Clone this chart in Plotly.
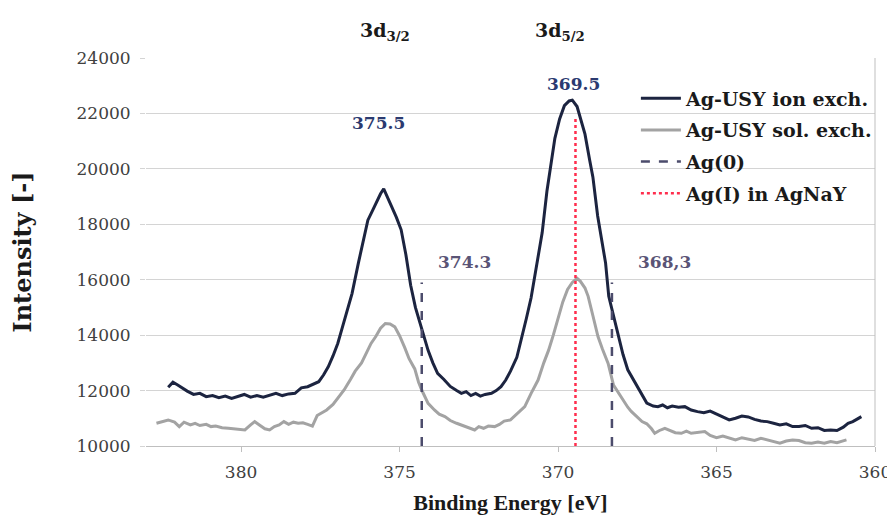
import plotly.graph_objects as go

# ---------------- data ----------------
be_ion = [382.3, 382.15, 382.0, 381.85, 381.7, 381.5, 381.3, 381.1, 380.9, 380.7, 380.5, 380.3, 380.1,
          379.9, 379.7, 379.5, 379.3, 379.1, 378.9, 378.7, 378.5, 378.3, 378.1, 377.9, 377.7, 377.55,
          377.4, 377.25, 377.1, 376.95, 376.8, 376.65, 376.5, 376.3, 376.15, 376.0, 375.85, 375.7, 375.6,
          375.5, 375.4, 375.25, 375.1, 374.95, 374.8, 374.65, 374.5, 374.3, 374.1, 373.95, 373.8, 373.6,
          373.4, 373.2, 373.05, 372.9, 372.75, 372.6, 372.45, 372.3, 372.1, 371.95, 371.8, 371.65, 371.5,
          371.3, 371.15, 371.0, 370.85, 370.7, 370.5, 370.35, 370.25, 370.1, 369.95, 369.8, 369.65, 369.55,
          369.4, 369.25, 369.15, 369.0, 368.9, 368.75, 368.6, 368.5, 368.4, 368.25, 368.1, 367.95, 367.8,
          367.65, 367.5, 367.35, 367.2, 367.0, 366.85, 366.7, 366.55, 366.4, 366.2, 366.0, 365.8, 365.6,
          365.4, 365.2, 365.0, 364.8, 364.6, 364.4, 364.2, 364.0, 363.8, 363.6, 363.4, 363.2, 363.0, 362.8,
          362.6, 362.4, 362.2, 362.0, 361.8, 361.6, 361.4, 361.2, 361.0, 360.85, 360.7, 360.55, 360.43]
int_ion = [12120, 12300, 12200, 12080, 11980, 11860, 11900, 11780, 11820, 11740, 11800, 11720, 11780,
           11860, 11760, 11820, 11760, 11840, 11900, 11820, 11880, 11900, 12100, 12140, 12260, 12320,
           12560, 12860, 13250, 13700, 14300, 14900, 15500, 16600, 17400, 18150, 18500, 18900, 19100,
           19280, 19000, 18640, 18250, 17800, 16900, 15800, 15000, 14250, 13450, 13000, 12620, 12400,
           12150, 12000, 11900, 11960, 11820, 11900, 11800, 11860, 11900, 12000, 12140, 12380, 12700,
           13200, 13850, 14600, 15350, 16300, 17700, 19200, 20000, 21100, 21800, 22280, 22450, 22480,
           22250, 21700, 21250, 20300, 19700, 18300, 17300, 16600, 15400, 14700, 13950, 13300, 12750,
           12450, 12150, 11800, 11550, 11440, 11420, 11480, 11380, 11440, 11400, 11420, 11300, 11240,
           11200, 11260, 11160, 11060, 10940, 11000, 11080, 11050, 10960, 10900, 10880, 10820, 10760, 10800,
           10700, 10700, 10740, 10640, 10660, 10560, 10580, 10560, 10680, 10820, 10880, 10980, 11060]

be_sol = [382.67, 382.5, 382.3, 382.1, 381.95, 381.8, 381.6, 381.45, 381.3, 381.1, 380.95, 380.8, 380.6,
          380.4, 380.2, 380.0, 379.88, 379.7, 379.57, 379.4, 379.25, 379.1, 378.95, 378.8, 378.65, 378.5,
          378.35, 378.2, 378.05, 377.9, 377.75, 377.6, 377.45, 377.3, 377.1, 376.95, 376.75, 376.55, 376.4,
          376.2, 376.05, 375.9, 375.75, 375.6, 375.45, 375.3, 375.15, 375.0, 374.84, 374.7, 374.52, 374.4,
          374.3, 374.2, 374.1, 373.9, 373.75, 373.57, 373.4, 373.2, 373.05, 372.9, 372.75, 372.63, 372.5,
          372.35, 372.2, 372.0, 371.85, 371.7, 371.5, 371.3, 371.05, 370.85, 370.63, 370.45, 370.3, 370.15,
          370.0, 369.85, 369.7, 369.55, 369.4, 369.3, 369.15, 369.05, 368.9, 368.74, 368.6, 368.42, 368.25,
          368.11, 367.95, 367.8, 367.69, 367.5, 367.35, 367.2, 367.05, 366.95, 366.8, 366.63, 366.45, 366.3,
          366.11, 365.95, 365.8, 365.6, 365.37, 365.2, 365.0, 364.8, 364.6, 364.4, 364.2, 364.0, 363.8,
          363.6, 363.4, 363.2, 363.0, 362.8, 362.6, 362.4, 362.2, 362.0, 361.8, 361.6, 361.4, 361.2,
          361.05, 360.9]
int_sol = [10819, 10880, 10940, 10860, 10700, 10860, 10760, 10820, 10740, 10780, 10700, 10720, 10660,
           10640, 10620, 10580, 10580, 10760, 10880, 10740, 10620, 10580, 10700, 10760, 10880, 10780,
           10860, 10820, 10840, 10780, 10720, 11100, 11200, 11300, 11500, 11720, 12020, 12400, 12700,
           13000, 13350, 13700, 13950, 14250, 14420, 14400, 14300, 13980, 13560, 13150, 12780, 12300,
           12020, 11780, 11540, 11300, 11150, 11060, 10920, 10820, 10760, 10700, 10620, 10580, 10700,
           10640, 10720, 10700, 10780, 10900, 10940, 11150, 11420, 11900, 12380, 13000, 13450, 14000,
           14650, 15200, 15650, 15900, 16050, 15950, 15700, 15400, 14700, 13950, 13500, 12980, 12200,
           11950, 11650, 11400, 11250, 11060, 10880, 10800, 10620, 10460, 10560, 10640, 10560, 10480,
           10460, 10540, 10460, 10500, 10520, 10380, 10300, 10360, 10280, 10220, 10300, 10240, 10200,
           10280, 10220, 10160, 10100, 10180, 10220, 10200, 10120, 10100, 10140, 10100, 10160, 10120,
           10180, 10220]

ag0_energies = [374.3, 368.3]
ag0_top = 15900
agI_energy = 369.45
agI_top = 21900
y_base = 10000

x_ticks = [380, 375, 370, 365, 360]
y_ticks = [10000, 12000, 14000, 16000, 18000, 20000, 22000, 24000]

series_names = ["Ag-USY ion exch.", "Ag-USY sol. exch.", "Ag(0)", "Ag(I) in AgNaY"]

peak_labels = ["375.5", "369.5"]
peak_label_pos = [(375.68, 21650), (369.5, 23080)]
ag0_labels = ["374.3", "368,3"]
ag0_label_pos = [(372.95, 16640), (366.65, 16640)]
orbital_labels = ["<b>3d<sub>3/2</sub></b>", "<b>3d<sub>5/2</sub></b>"]
orbital_label_x = [375.45, 369.95]

# ---------------- figure ----------------
SERIF = "DejaVu Serif"
TIMES = "Liberation Serif"

fig = go.Figure()
fig.add_trace(go.Scatter(x=be_ion, y=int_ion, mode="lines", name=series_names[0],
                         legendgroup="g1", line=dict(color="#1c2440", width=3)))
fig.add_trace(go.Scatter(x=be_sol, y=int_sol, mode="lines", name=series_names[1],
                         legendgroup="g2", line=dict(color="#a3a3a3", width=3)))

ag0_x, ag0_y = [], []
for e in ag0_energies:
    ag0_x += [e, e, None]
    ag0_y += [y_base, ag0_top, None]
fig.add_trace(go.Scatter(x=ag0_x, y=ag0_y, mode="lines", name=series_names[2],
                         legendgroup="g3", line=dict(color="#4c4c6c", width=2.5, dash="dash")))
fig.add_trace(go.Scatter(x=[agI_energy, agI_energy], y=[y_base, agI_top], mode="lines",
                         name=series_names[3], legendgroup="g4",
                         line=dict(color="#ff2d4d", width=2.5, dash="dot")))

annotations = []
for txt, (xx, yy) in zip(peak_labels, peak_label_pos):
    annotations.append(dict(x=xx, y=yy, text=f"<b>{txt}</b>", showarrow=False,
                            font=dict(family=SERIF, size=17, color="#2b3a70")))
for txt, (xx, yy) in zip(ag0_labels, ag0_label_pos):
    annotations.append(dict(x=xx, y=yy, text=f"<b>{txt}</b>", showarrow=False,
                            font=dict(family=SERIF, size=17, color="#5a5476")))
for txt, xx in zip(orbital_labels, orbital_label_x):
    annotations.append(dict(x=xx, y=1.105, yref="paper", text=txt, showarrow=False,
                            font=dict(family=SERIF, size=19, color="#1a1a1a")))

shapes = [dict(type="line", xref="paper", yref="paper", x0=1, x1=1, y0=0, y1=1,
               line=dict(color="#bfbfbf", width=1))]

fig.update_layout(
    width=887, height=514,
    margin=dict(l=138, r=20, t=50, b=76),
    paper_bgcolor="white", plot_bgcolor="white",
    font=dict(family=SERIF, color="#404040"),
    showlegend=True,
    legend=dict(x=0.672, y=0.945, xanchor="left", yanchor="top",
                font=dict(family=SERIF, size=19, color="#1a1a1a", weight="bold"),
                bgcolor="rgba(255,255,255,0)", tracegroupgap=4, itemwidth=40),
    annotations=annotations,
    shapes=shapes,
    xaxis=dict(range=[383.0, 360.0], tickvals=x_ticks, ticktext=[str(t) for t in x_ticks],
               showgrid=False, showline=True, linecolor="#bfbfbf", linewidth=1,
               ticks="outside", ticklen=5, tickcolor="#bfbfbf", ticklabelstandoff=6,
               tickfont=dict(family=SERIF, size=17, color="#404040"),
               title=dict(text="<b>Binding Energy [eV]</b>", standoff=13,
                          font=dict(family=TIMES, size=22, color="#1a1a1a")),
               zeroline=False, automargin=False),
    yaxis=dict(range=[10000, 24000], tickvals=y_ticks, ticktext=[str(t) for t in y_ticks],
               showgrid=True, gridcolor="#d4d4d4", gridwidth=1, showline=False,
               ticks="outside", ticklen=5, tickcolor="#d4d4d4", ticklabelstandoff=6,
               tickfont=dict(family=SERIF, size=17, color="#404040"),
               title=dict(text="<b>Intensity [-]</b>", standoff=40,
                          font=dict(family=SERIF, size=24, color="#1a1a1a")),
               zeroline=False, automargin=False),
)

fig.write_html("out.html")
